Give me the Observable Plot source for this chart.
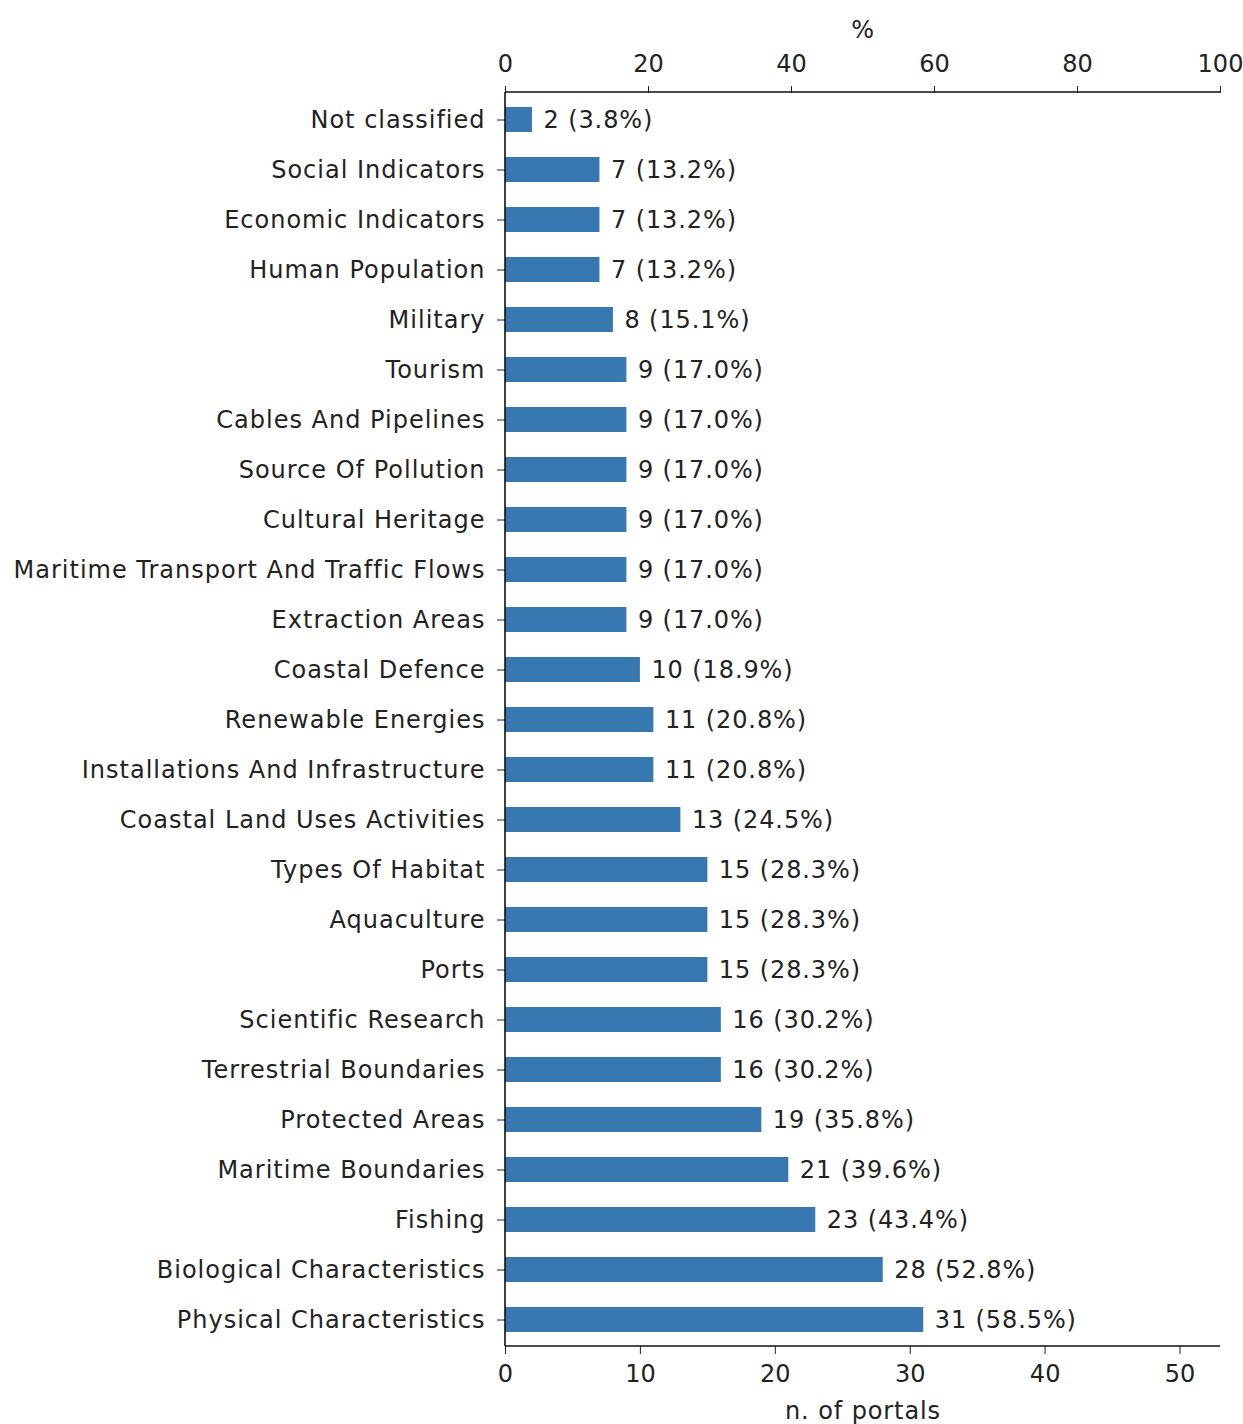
<!DOCTYPE html>
<html>
<head>
<meta charset="utf-8">
<script src="https://cdn.jsdelivr.net/npm/d3@7"></script>
<script src="https://cdn.jsdelivr.net/npm/@observablehq/plot@0.6"></script>
<style>
  html, body { margin: 0; padding: 0; background: #fff; }
  #chart svg { display: block; }
</style>
</head>
<body>
<div id="chart"></div>
<script>
const categories = [
  "Not classified", "Social Indicators", "Economic Indicators", "Human Population",
  "Military", "Tourism", "Cables And Pipelines", "Source Of Pollution",
  "Cultural Heritage", "Maritime Transport And Traffic Flows", "Extraction Areas",
  "Coastal Defence", "Renewable Energies", "Installations And Infrastructure",
  "Coastal Land Uses Activities", "Types Of Habitat", "Aquaculture", "Ports",
  "Scientific Research", "Terrestrial Boundaries", "Protected Areas",
  "Maritime Boundaries", "Fishing", "Biological Characteristics", "Physical Characteristics"
];
const portals = [2, 7, 7, 7, 8, 9, 9, 9, 9, 9, 9, 10, 11, 11, 13, 15, 15, 15, 16, 16, 19, 21, 23, 28, 31];
const percents = ["3.8", "13.2", "13.2", "13.2", "15.1", "17.0", "17.0", "17.0", "17.0", "17.0", "17.0",
  "18.9", "20.8", "20.8", "24.5", "28.3", "28.3", "28.3", "30.2", "30.2", "35.8", "39.6", "43.4", "52.8", "58.5"];
const totalPortals = 53;
const bottomTicks = [0, 10, 20, 30, 40, 50];
const topTicks = [0, 20, 40, 60, 80, 100];

const data = categories.map((c, i) => ({cat: c, n: portals[i], pct: percents[i]}));

const FONT = 24;
const chart = Plot.plot({
  width: 1243,
  height: 1424,
  marginLeft: 505,
  marginRight: 23,
  marginTop: 92,
  marginBottom: 78,
  style: {fontFamily: "DejaVu Sans", fontSize: FONT + "px", color: "#222", background: "#fff"},
  x: {domain: [0, totalPortals]},
  y: {domain: categories, paddingInner: 0.5, paddingOuter: 0.25},
  marks: [
    Plot.barX(data, {x: "n", y: "cat", fill: "#3878b0"}),
    Plot.text(data, {x: "n", y: "cat", text: d => `${d.n} (${d.pct}%)`, textAnchor: "start", dx: 11, fontSize: FONT, fill: "#222"}),
    Plot.axisY({tickSize: 8, tickPadding: 12, label: null, fontSize: FONT, stroke: "#222"}),
    Plot.axisX({anchor: "bottom", ticks: bottomTicks, tickSize: 8, tickPadding: 10, label: null, fontSize: FONT}),
    Plot.axisX({anchor: "top", ticks: topTicks.map(p => p * totalPortals / 100), tickFormat: d => Math.round(d / totalPortals * 100), tickSize: 7, tickPadding: 14, label: null, fontSize: FONT}),
    Plot.text(["%"], {frameAnchor: "top", dy: -62, lineAnchor: "middle", fontSize: FONT, fill: "#222"}),
    Plot.text(["n. of portals"], {frameAnchor: "bottom", dy: 65, lineAnchor: "middle", fontSize: FONT, fill: "#222"})
  ]
});

const svg = d3.select(chart);
// wider letter spacing on category and value labels, as in the reference rendering
svg.selectAll('g[aria-label="y-axis tick label"] text').style("letter-spacing", "1px");
svg.selectAll('g[aria-label="text"] text').style("letter-spacing", "0.9px");

// spines (left, top, bottom) from the scales
const sx = chart.scale("x");
const sy = chart.scale("y");
const [x0, x1] = sx.range;
const [y0, y1] = sy.range;
const g = svg.append("g").attr("stroke", "#111").attr("stroke-width", 1.6).attr("fill", "none");
g.append("line").attr("x1", x0).attr("x2", x0).attr("y1", y0).attr("y2", y1);
g.append("line").attr("x1", x0).attr("x2", x1).attr("y1", y0).attr("y2", y0);
g.append("line").attr("x1", x0).attr("x2", x1).attr("y1", y1).attr("y2", y1);

document.getElementById("chart").appendChild(chart);
</script>
</body>
</html>
